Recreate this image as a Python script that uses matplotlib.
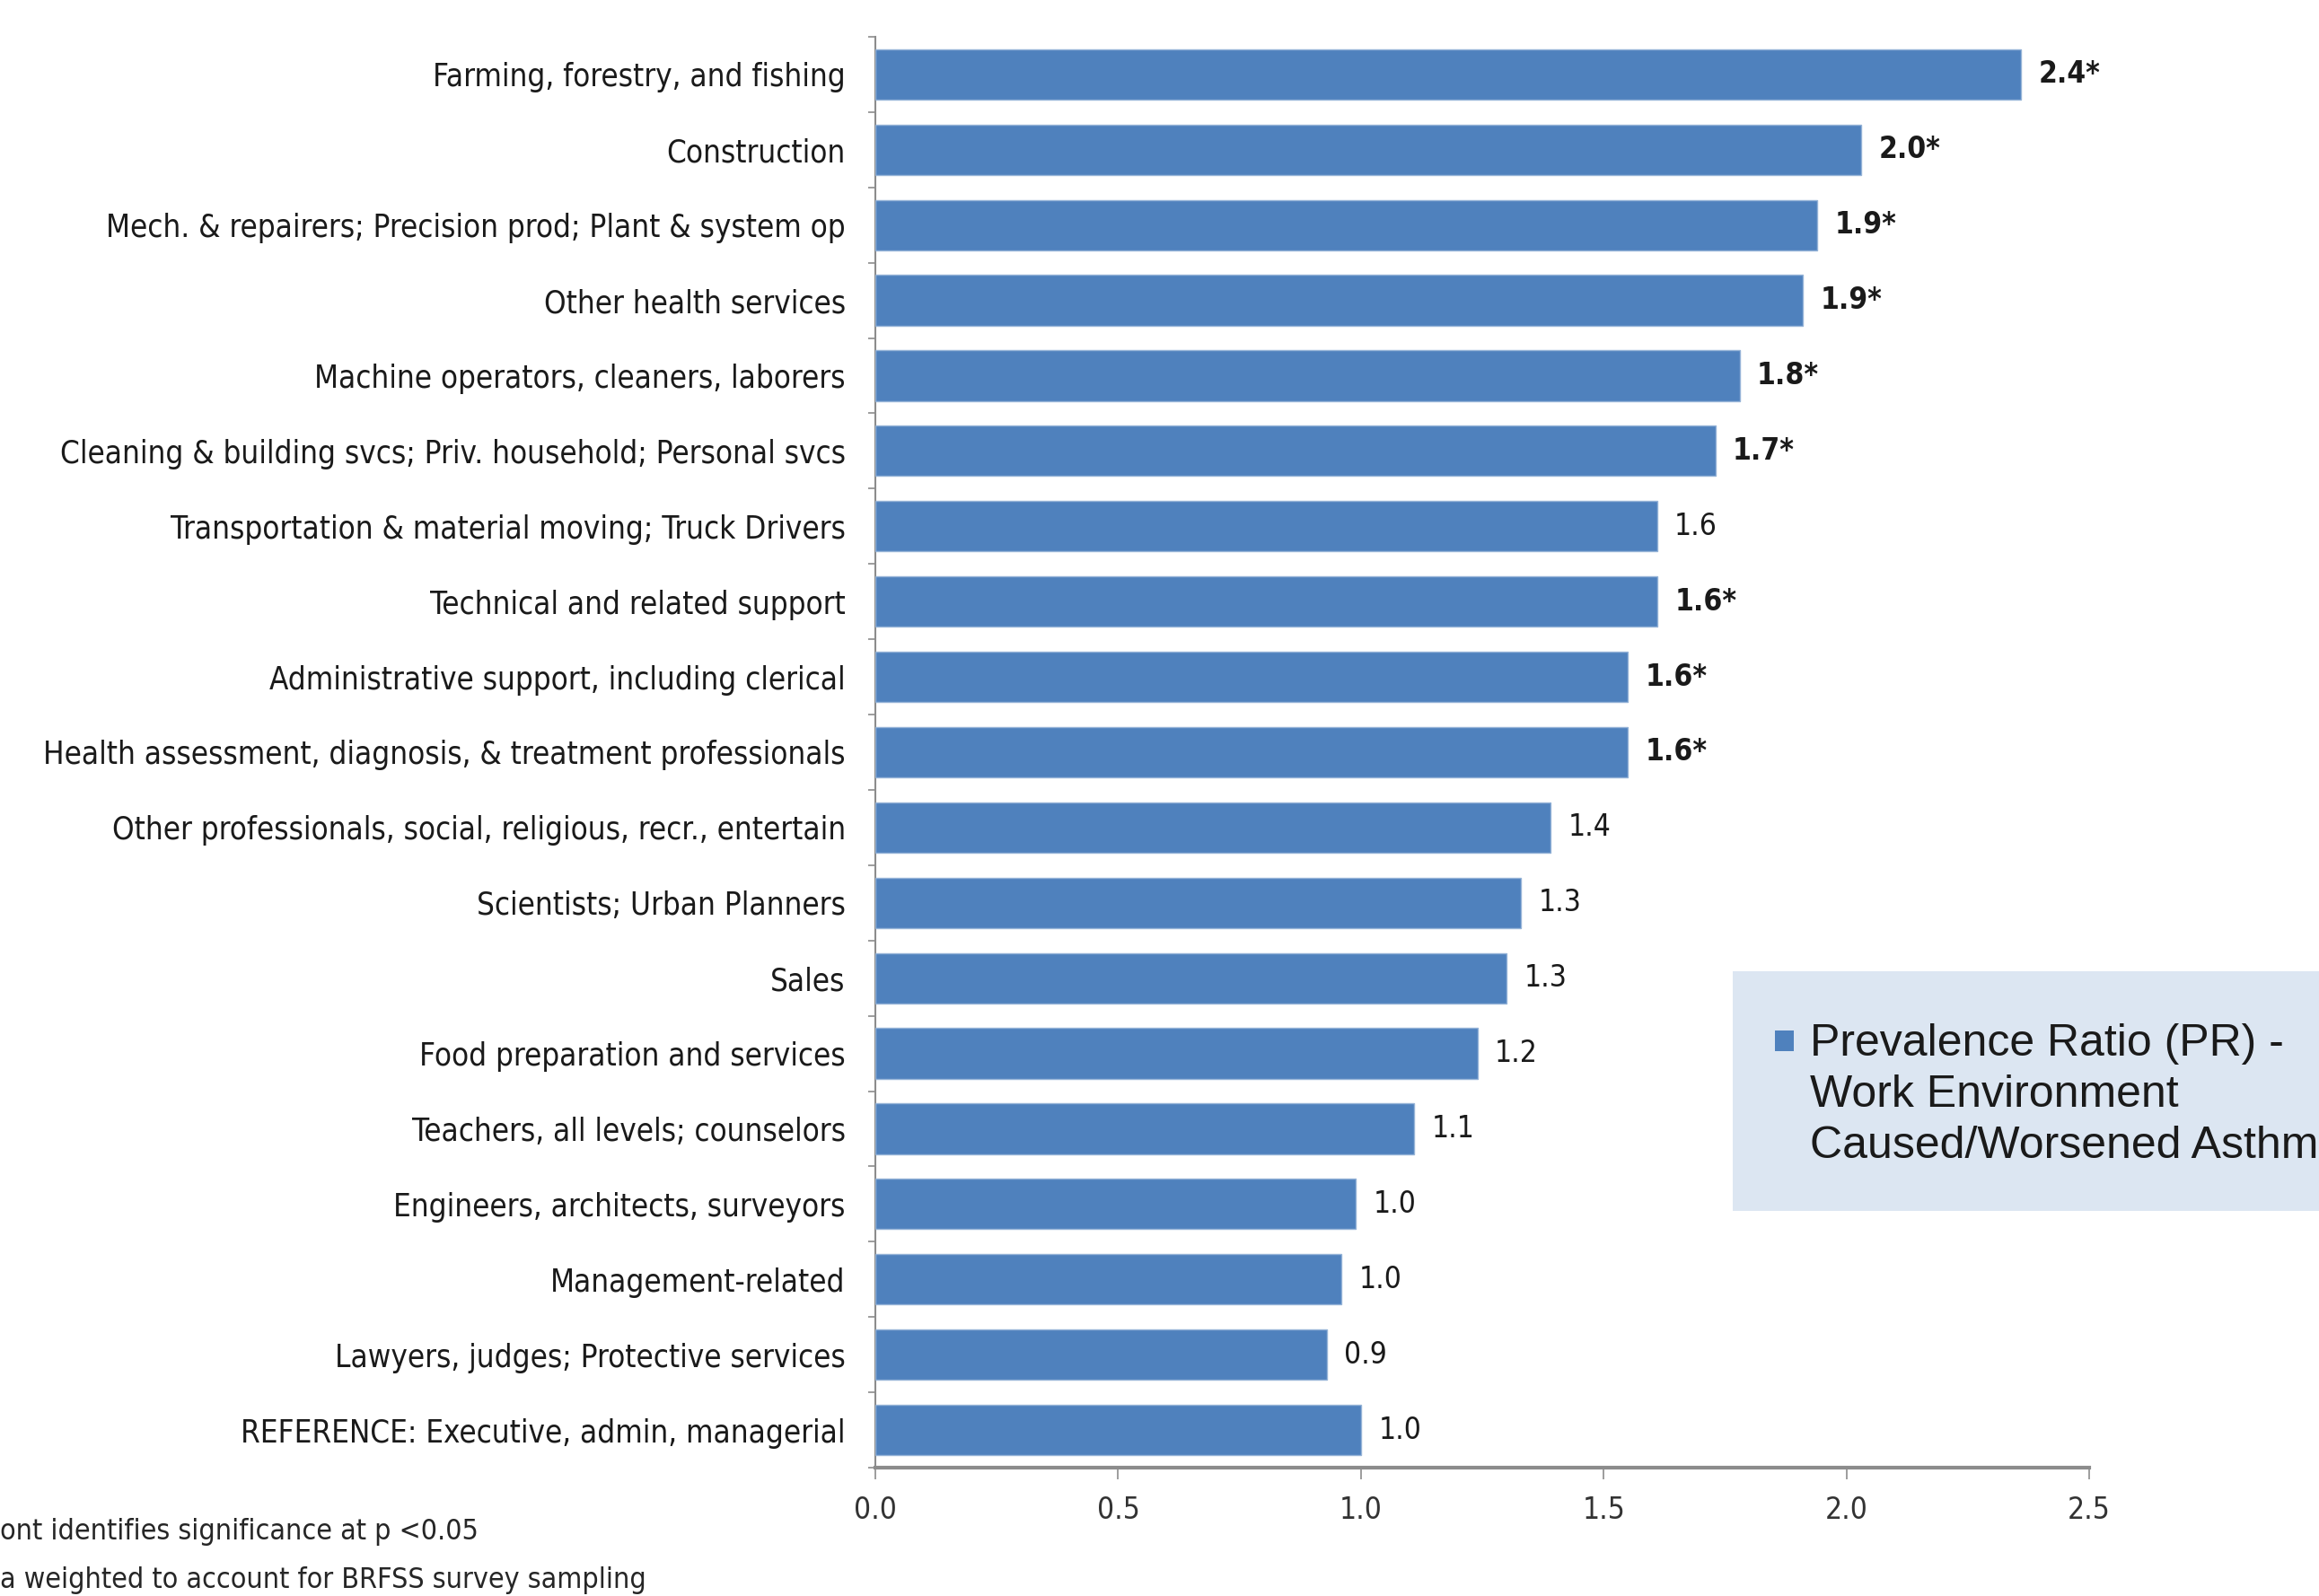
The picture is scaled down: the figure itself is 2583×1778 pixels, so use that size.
import numpy as np
import matplotlib
matplotlib.use("Agg")
import matplotlib.pyplot as plt
from matplotlib.patches import Rectangle
from matplotlib.ticker import FixedLocator

# Data (top to bottom as drawn)
categories = [
    "Farming, forestry, and fishing",
    "Construction",
    "Mech. & repairers; Precision prod; Plant & system op",
    "Other health services",
    "Machine operators, cleaners, laborers",
    "Cleaning & building svcs; Priv. household; Personal svcs",
    "Transportation & material moving; Truck Drivers",
    "Technical and related support",
    "Administrative support, including clerical",
    "Health assessment, diagnosis, & treatment professionals",
    "Other professionals, social, religious, recr., entertain",
    "Scientists; Urban Planners",
    "Sales",
    "Food preparation and services",
    "Teachers, all levels; counselors",
    "Engineers, architects, surveyors",
    "Management-related",
    "Lawyers, judges; Protective services",
    "REFERENCE: Executive, admin, managerial",
]
pr_values = [2.36, 2.03, 1.94, 1.91, 1.78, 1.73, 1.61, 1.61, 1.55, 1.55,
             1.39, 1.33, 1.30, 1.24, 1.11, 0.99, 0.96, 0.93, 1.00]
pr_labels = ["2.4", "2.0", "1.9", "1.9", "1.8", "1.7", "1.6", "1.6", "1.6", "1.6",
             "1.4", "1.3", "1.3", "1.2", "1.1", "1.0", "1.0", "0.9", "1.0"]
significant = [True, True, True, True, True, True, False, True, True, True,
               False, False, False, False, False, False, False, False, False]
x_ticks = [0.0, 0.5, 1.0, 1.5, 2.0, 2.5]

legend_label = "Prevalence Ratio (PR) -\nWork Environment\nCaused/Worsened Asthma"
footnotes = ["ont identifies significance at p <0.05",
             "a weighted to account for BRFSS survey sampling"]

BAR_COLOR = "#4F81BD"
NARROW = dict(family="DejaVu Sans", stretch="condensed")

fig = plt.figure(figsize=(25.83, 17.78), dpi=100)
ax = fig.add_axes([0.3775, 0.0804, 0.5234, 0.8966])

y = np.arange(len(categories))
ax.barh(y, pr_values, height=0.67, color=BAR_COLOR, edgecolor="#95B3D7", linewidth=1.0, zorder=3)

ax.set_ylim(len(categories) - 0.5, -0.5)
ax.set_xlim(0, 2.5)

# value labels, bold where significant
for yi, v, lab, sig in zip(y, pr_values, pr_labels, significant):
    txt = lab + ("*" if sig else "")
    ax.annotate(txt, xy=(v, yi), xytext=(14, 0), textcoords="offset points",
                va="center", ha="left", fontsize=24,
                fontweight="bold" if sig else "normal",
                color="#1a1a1a", **NARROW)

# spines
for s in ["top", "right"]:
    ax.spines[s].set_visible(False)
ax.spines["left"].set_color("#8c8c8c")
ax.spines["left"].set_linewidth(1.5)
ax.spines["bottom"].set_color("#8c8c8c")
ax.spines["bottom"].set_linewidth(3)

# y ticks: labels at centres, marks at category boundaries
ax.set_yticks(y)
ax.set_yticklabels(categories, fontsize=25, color="#1a1a1a", **NARROW)
ax.tick_params(axis="y", which="major", length=0, pad=24)
ax.yaxis.set_minor_locator(FixedLocator(np.arange(-0.5, len(categories), 1.0)))
ax.tick_params(axis="y", which="minor", length=6, width=1.2, color="#8c8c8c")

ax.set_xticks(x_ticks)
ax.set_xticklabels([f"{t:.1f}" for t in x_ticks], fontsize=24, color="#333333", **NARROW)
ax.tick_params(axis="x", which="major", length=9, width=1.2, color="#8c8c8c", pad=13)

# legend box (cut at the right edge, as in the original slide)
fig.patches.append(Rectangle((0.747, 1 - 1349 / 1778), 0.30, 267 / 1778,
                             transform=fig.transFigure, facecolor="#DCE6F2",
                             edgecolor="none", zorder=0))
fig.patches.append(Rectangle((0.7654, 1 - 1171 / 1778), 21 / 2583, 23 / 1778,
                             transform=fig.transFigure, facecolor=BAR_COLOR,
                             edgecolor="none", zorder=1))
fig.text(0.7805, 1 - 1140 / 1778, legend_label, ha="left", va="top",
         fontsize=36, family=["Liberation Sans", "DejaVu Sans"],
         color="#1a1a1a", linespacing=1.3)

# footnotes (cut at the left edge)
fig.text(0.0, 1 - 1706 / 1778, footnotes[0], ha="left", va="center",
         fontsize=23, color="#262626", **NARROW)
fig.text(0.0, 1 - 1760 / 1778, footnotes[1], ha="left", va="center",
         fontsize=23, color="#262626", **NARROW)

fig.savefig("out.png", dpi=100)
